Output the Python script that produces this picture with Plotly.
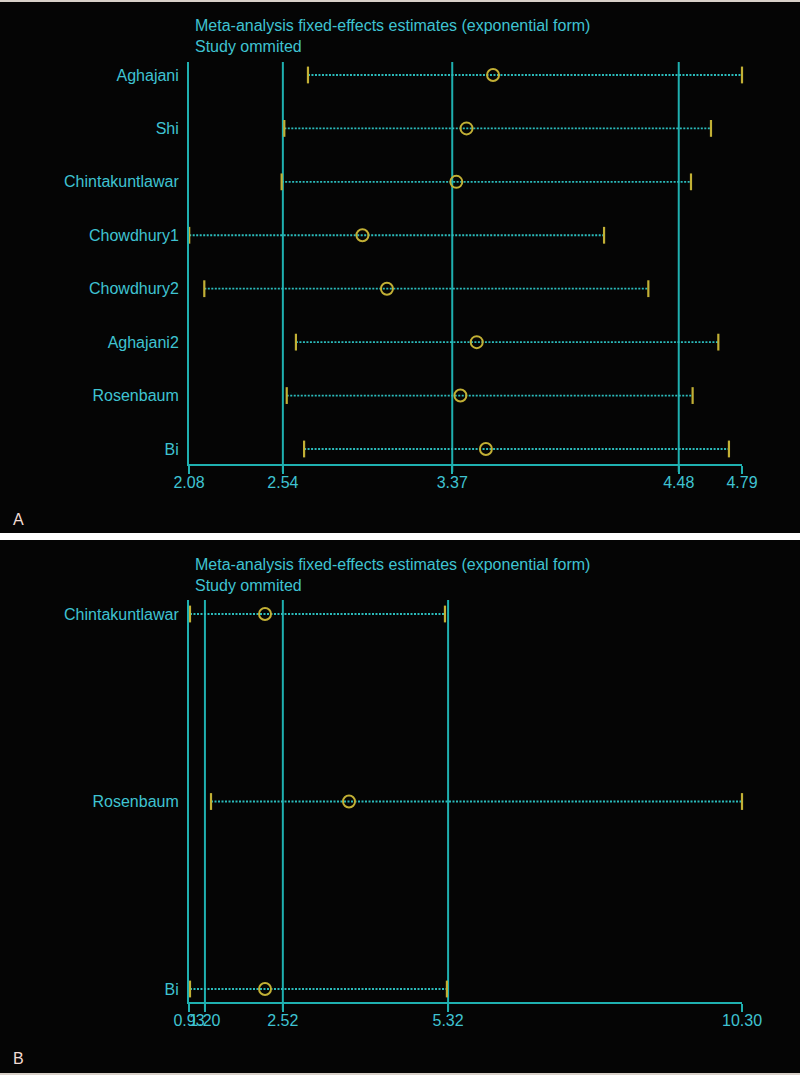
import plotly.graph_objects as go

# ---------------- data ----------------
studies_A = ["Aghajani", "Shi", "Chintakuntlawar", "Chowdhury1", "Chowdhury2",
             "Aghajani2", "Rosenbaum", "Bi"]
est_A = [3.57, 3.44, 3.39, 2.93, 3.05, 3.49, 3.41, 3.535]
lo_A = [2.663, 2.547, 2.534, 2.081, 2.155, 2.604, 2.559, 2.644]
hi_A = [4.79, 4.638, 4.540, 4.114, 4.331, 4.674, 4.548, 4.726]
overall_A = [2.54, 3.37, 4.48]
ticks_A = [2.08, 2.54, 3.37, 4.48, 4.79]
ticktext_A = ["2.08", "2.54", "3.37", "4.48", "4.79"]

studies_B = ["Chintakuntlawar", "Rosenbaum", "Bi"]
est_B = [2.218, 3.641, 2.218]
lo_B = [0.947, 1.303, 0.947]
hi_B = [5.267, 10.30, 5.30]
overall_B = [1.20, 2.52, 5.32]
ticks_B = [0.93, 1.20, 2.52, 5.32, 10.30]
ticktext_B = ["0.93", "1.20", "2.52", "5.32", "10.30"]

title_text = "Meta-analysis fixed-effects estimates (exponential form)<br>Study ommited"

# ---------------- style ----------------
W, H = 800, 1075
BG = "#050505"
LINE = "#1fb0b0"
TEXT = "#3fc3d2"
YEL = "#c2b035"
FONT = "Liberation Sans, Arial, sans-serif"

fig = go.Figure()


def add_panel(studies, est, lo, hi, xa, ya):
    n = len(studies)
    ys = list(range(n, 0, -1))
    lx, ly = [], []
    for a, b, y in zip(lo, hi, ys):
        lx += [a, b, None]
        ly += [y, y, None]
    fig.add_trace(go.Scatter(x=lx, y=ly, mode="lines", xaxis=xa, yaxis=ya,
                             line=dict(color="#2bbcbc", width=1.8, dash="2px,1.5px"),
                             hoverinfo="skip", showlegend=False, cliponaxis=False))
    fig.add_trace(go.Scatter(x=lo + hi, y=ys + ys, mode="markers", xaxis=xa, yaxis=ya,
                             marker=dict(symbol="line-ns-open", size=12, color=YEL,
                                         line=dict(color=YEL, width=2.2)),
                             showlegend=False, cliponaxis=False))
    fig.add_trace(go.Scatter(x=est, y=ys, mode="markers", xaxis=xa, yaxis=ya,
                             marker=dict(symbol="circle-open", size=12,
                                         color=YEL, line=dict(color=YEL, width=2)),
                             showlegend=False, cliponaxis=False))
    return ys


ysA = add_panel(studies_A, est_A, lo_A, hi_A, "x", "y")
ysB = add_panel(studies_B, est_B, lo_B, hi_B, "x2", "y2")

xdom = [189 / W, 742 / W]
domA = [1 - 464 / H, 1 - 62 / H]
domB = [1 - 1002 / H, 1 - 600 / H]

axis_common = dict(showgrid=False, zeroline=False, showline=True, linecolor=LINE,
                   linewidth=2, ticks="outside", ticklen=8, tickwidth=2, tickcolor=LINE,
                   tickangle=0, automargin=False, ticklabelstandoff=-5,
                   tickfont=dict(family=FONT, size=16, color=TEXT))
yaxis_common = dict(showgrid=False, zeroline=False, showline=True, linecolor=LINE,
                    linewidth=2, ticks="", ticklabelstandoff=5, automargin=False,
                    tickfont=dict(family=FONT, size=16, color=TEXT))

fig.update_layout(
    width=W, height=H, margin=dict(l=0, r=0, t=0, b=0),
    paper_bgcolor=BG, plot_bgcolor=BG, showlegend=False,
    xaxis=dict(domain=xdom, anchor="y", range=[ticks_A[0], ticks_A[-1]],
               tickvals=ticks_A, ticktext=ticktext_A, **axis_common),
    yaxis=dict(domain=domA, anchor="x", range=[0.719, 8.243],
               tickvals=ysA, ticktext=studies_A, **yaxis_common),
    xaxis2=dict(domain=xdom, anchor="y2", range=[ticks_B[0], ticks_B[-1]],
                tickvals=ticks_B, ticktext=ticktext_B, **axis_common),
    yaxis2=dict(domain=domB, anchor="x2", range=[0.9307, 3.0747],
                tickvals=ysB, ticktext=studies_B, **yaxis_common),
)

# overall estimate / CI vertical lines
for v in overall_A:
    fig.add_shape(type="line", xref="x", yref="y domain", x0=v, x1=v, y0=-0.02, y1=1,
                  line=dict(color=LINE, width=2), layer="below")
for v in overall_B:
    fig.add_shape(type="line", xref="x2", yref="y2 domain", x0=v, x1=v, y0=-0.02, y1=1,
                  line=dict(color=LINE, width=2), layer="below")

# white separator strip and thin borders
fig.add_shape(type="rect", xref="paper", yref="paper", x0=0, x1=1,
              y0=1 - 540 / H, y1=1 - 533 / H, fillcolor="white", line=dict(width=0))
fig.add_shape(type="rect", xref="paper", yref="paper", x0=0, x1=1,
              y0=1 - 2 / H, y1=1, fillcolor="#d8d0c8", line=dict(width=0))
fig.add_shape(type="rect", xref="paper", yref="paper", x0=0, x1=1,
              y0=0, y1=2 / H, fillcolor="#d8d0c8", line=dict(width=0))

# titles
for yc in [35.5, 574.5]:
    fig.add_annotation(xref="paper", yref="paper", x=193 / W, y=1 - yc / H,
                       xanchor="left", yanchor="middle", align="left", showarrow=False,
                       text=title_text, font=dict(family=FONT, size=16, color=TEXT))

# panel letters
for letter, yc in [("A", 519), ("B", 1058)]:
    fig.add_annotation(xref="paper", yref="paper", x=11 / W, y=1 - yc / H,
                       xanchor="left", yanchor="middle", showarrow=False,
                       text=letter, font=dict(family=FONT, size=16, color="#f2dcd4"))

fig.write_html("out.html", config={"displayModeBar": False},
               post_script="document.body.style.margin='0';document.body.style.background='#050505';")
